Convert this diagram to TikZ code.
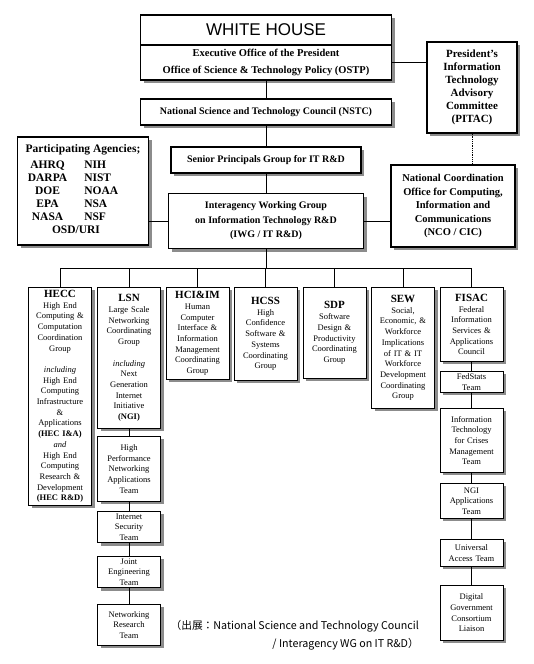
\documentclass[tikz,border=0pt]{standalone}
\usepackage{fontspec}
\setmainfont{Liberation Serif}
\newfontfamily\whfont{Liberation Sans}
\newfontfamily\jpfont{Noto Sans CJK JP}
\usetikzlibrary{shadows}

% column heading
\newcommand{\hd}[1]{{\fontsize{11}{10.7}\selectfont\bfseries #1}}

\begin{document}
\begin{tikzpicture}[x=1pt,y=-1pt,
    box/.style={draw,fill=white,line width=1.4pt,align=center,inner sep=2pt,
      drop shadow={shadow xshift=3pt,shadow yshift=-3pt,fill=black!45,opacity=1},
      font=\bfseries\fontsize{10}{12}\selectfont},
    colbox/.style={draw,fill=white,line width=0.9pt,align=center,anchor=north,
      drop shadow={shadow xshift=3pt,shadow yshift=-3pt,fill=black!45,opacity=1},
      text width=59pt,inner xsep=2pt,inner ysep=2pt,
      font=\fontsize{8.5}{10.7}\selectfont},
    link/.style={line width=0.8pt}]
\useasboundingbox (0,0) rectangle (533,664);

% upper part
\node[box,minimum width=251pt,minimum height=30pt,font=\whfont\fontsize{17}{17}\selectfont] (wh) at (266,30) {WHITE HOUSE};
\node[box,minimum width=251pt,minimum height=35pt,font=\bfseries\fontsize{10.5}{17}\selectfont] (exec) at (266,62.5)
  {Executive Office of the President\\Office of Science \& Technology Policy (OSTP)};
\node[box,minimum width=251pt,minimum height=26pt] (nstc) at (266,112) {National Science and Technology Council (NSTC)};
\node[box,minimum width=90pt,minimum height=91pt,font=\bfseries\fontsize{11}{13}\selectfont] (pitac) at (472,87.5)
  {President's\\Information\\Technology\\Advisory\\Committee\\(PITAC)};
\node[box,minimum width=131pt,minimum height=108pt,font=\bfseries\fontsize{11.5}{13}\selectfont] (agencies) at (83,191)
  {Participating Agencies;\\[3pt]
   \begin{tabular}{@{}c@{\hspace{17pt}}l@{\hspace{20pt}}}
   AHRQ & NIH\\ DARPA & NIST\\ DOE & NOAA\\ EPA & NSA\\ NASA & NSF\\
   \multicolumn{2}{c@{\hspace{20pt}}}{OSD/URI}
   \end{tabular}};
\node[box,minimum width=190pt,minimum height=26pt] (senior) at (266,160) {Senior Principals Group for IT R\&D};
\node[box,minimum width=195pt,minimum height=55pt,font=\bfseries\fontsize{10}{14.5}\selectfont] (iwg) at (266,221)
  {Interagency Working Group\\on Information Technology R\&D\\(IWG / IT R\&D)};
\node[box,minimum width=124pt,minimum height=82pt,font=\bfseries\fontsize{10.5}{13.5}\selectfont] (nco) at (453,206)
  {National Coordination\\Office for Computing,\\Information and\\Communications\\(NCO / CIC)};

\draw[link] (exec) -- (nstc);
\draw[link] (nstc) -- (senior);
\draw[link] (senior) -- (iwg);
\draw[link] (exec.east) -- (exec.east -| pitac.west);
\draw[link,densely dotted] (pitac.south) -- (pitac.south |- nco.north);
\draw[link] (iwg.west) -- (iwg.west -| agencies.east);
\draw[link] (iwg.east) -- (iwg.east -| nco.west);

% working groups
\node[colbox,minimum height=218pt] (hecc) at (60,287)
  {\hd{HECC}\\High End\\Computing \&\\Computation\\Coordination\\Group\\[10.7pt]
   \textit{including}\\High End\\Computing\\Infrastructure\\\&\\Applications\\\textbf{(HEC I\&A)}\\
   \textit{and}\\High End\\Computing\\Research \&\\Development\\\textbf{(HEC R\&D)}};
\node[colbox,minimum height=141pt] (lsn) at (129,287)
  {\hd{LSN}\\Large Scale\\Networking\\Coordinating\\Group\\[10.7pt]
   \textit{including}\\Next\\Generation\\Internet\\Initiative\\\textbf{(NGI)}};
\node[colbox,minimum height=92pt] (hci) at (197.5,287)
  {\hd{HCI\&IM}\\Human\\Computer\\Interface \&\\Information\\Management\\Coordinating\\Group};
\node[colbox,minimum height=93pt] (hcss) at (265.5,287)
  {\hd{HCSS}\\High\\Confidence\\Software \&\\Systems\\Coordinating\\Group};
\node[colbox,minimum height=91pt] (sdp) at (334.5,287)
  {\hd{SDP}\\Software\\Design \&\\Productivity\\Coordinating\\Group};
\node[colbox,minimum height=121pt] (sew) at (403,287)
  {\hd{SEW}\\Social,\\Economic, \&\\Workforce\\Implications\\of IT \& IT\\Workforce\\Development\\Coordinating\\Group};
\node[colbox,minimum height=74pt] (fisac) at (471.5,287)
  {\hd{FISAC}\\Federal\\Information\\Services \&\\Applications\\Council};

\coordinate (bus) at (266,268);
\draw[link] (iwg.south) -- (bus);
\draw[link] (hecc.north |- bus) -- (fisac.north |- bus);
\foreach \g in {hecc,lsn,hci,hcss,sdp,sew,fisac}{\draw[link] (\g.north |- bus) -- (\g.north);}

% LSN teams
\node[colbox,minimum height=65pt] (hpna) at (129,436) {High\\Performance\\Networking\\Applications\\Team};
\node[colbox] (isec) at (129,511) {Internet\\Security\\Team};
\node[colbox] (jet) at (129,556) {Joint\\Engineering\\Team};
\node[colbox,minimum height=41pt] (nrt) at (129,604) {Networking\\Research\\Team};
\draw[link] (lsn) -- (hpna) -- (isec) -- (jet) -- (nrt);

% FISAC teams
\node[colbox] (fedstats) at (471.5,371) {FedStats\\Team};
\node[colbox,minimum height=64pt] (itcm) at (471.5,408) {Information\\Technology\\for Crises\\Management\\Team};
\node[colbox,minimum height=35pt] (ngia) at (471.5,483) {NGI\\Applications\\Team};
\node[colbox,minimum height=27pt] (uat) at (471.5,539) {Universal\\Access Team};
\node[colbox,minimum height=55pt] (dgcl) at (471.5,585) {Digital\\Government\\Consortium\\Liaison};
\draw[link] (fisac) -- (fedstats) -- (itcm) -- (ngia) -- (uat) -- (dgcl);

\node[anchor=north east,align=right,inner sep=0pt,font=\jpfont\fontsize{10.7}{18}\selectfont] (source) at (419,620)
  {（出展：National Science and Technology Council\\/ Interagency WG on IT R\&D）};
\end{tikzpicture}
\end{document}
